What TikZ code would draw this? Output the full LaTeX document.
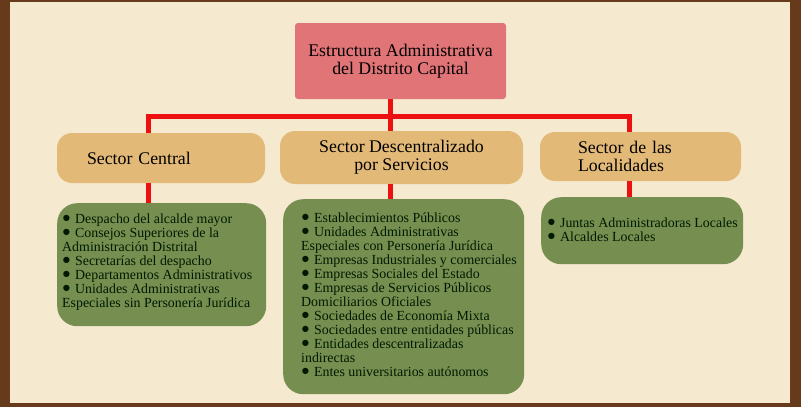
\documentclass[tikz,border=0pt]{standalone}
\usepackage{fontspec}
\setmainfont{Liberation Serif}
\definecolor{framebrown}{RGB}{103,58,27}
\definecolor{paper}{RGB}{245,233,208}
\definecolor{rose}{RGB}{225,116,118}
\definecolor{sand}{RGB}{227,185,120}
\definecolor{moss}{RGB}{118,143,80}
\definecolor{wire}{RGB}{236,16,16}
\newcommand\itm{\raisebox{1pt}{\fontsize{14.5}{14.5}\selectfont ●}\hspace{0.3em}}
\tikzstyle{topbox}=[shape=rectangle,
	       fill=rose,
	       rounded corners=3pt,
	       minimum width=211pt,
	       minimum height=76pt,
	       align=center,
	       font=\fontsize{17.8}{18}\selectfont]
\tikzstyle{secbox}=[shape=rectangle,
	       fill=sand,
	       rounded corners=15pt,
	       inner sep=0pt,
	       font=\fontsize{17.8}{18}\selectfont]
\tikzstyle{itembox}=[shape=rectangle,
	       fill=moss,
	       rounded corners=20pt,
	       anchor=north west]
\tikzstyle{itemtext}=[anchor=north west,
	       inner sep=0pt,
	       align=left,
	       text=black!90!green,
	       font=\fontsize{13.9}{14}\selectfont]
\tikzstyle{link}=[draw=wire, line width=5pt]

\begin{document}
\begin{tikzpicture}[x=1pt,y=-1pt]

% frame and paper
\useasboundingbox (0,0) rectangle (801,407);
\fill[framebrown] (0,0) rectangle (801,407);
\fill[paper] (10,2) rectangle (790,403);

% head of the chart
\node[topbox] (top) at (400.5,61) {Estructura Administrativa\\del Distrito Capital};

% the three sectors
\node[secbox, minimum width=208pt, minimum height=50pt, text width=148pt, align=left] (central) at (161,158) {Sector Central};
\node[secbox, minimum width=243pt, minimum height=53pt, align=center] (desc) at (401.5,157.5) {Sector Descentralizado\\por Servicios};
\node[secbox, minimum width=201pt, minimum height=49pt, text width=125pt, align=left] (local) at (640.5,156.5) {Sector de las\\Localidades};

% green boxes with their lists
\node[itembox, minimum width=209pt, minimum height=123pt] (cbox) at (57,203) {};
\node[itembox, minimum width=241pt, minimum height=195pt] (dbox) at (283,199) {};
\node[itembox, minimum width=202pt, minimum height=67pt] (lbox) at (541,197) {};

\node[itemtext] (clist) at (62,213.5) {\itm Despacho del alcalde mayor\\\itm Consejos Superiores de la\\Administración Distrital\\\itm Secretarías del despacho\\\itm Departamentos Administrativos\\\itm Unidades Administrativas\\Especiales sin Personería Jurídica};
\node[itemtext] (dlist) at (301,212.5) {\itm Establecimientos Públicos\\\itm Unidades Administrativas\\Especiales con Personería Jurídica\\\itm Empresas Industriales y comerciales\\\itm Empresas Sociales del Estado\\\itm Empresas de Servicios Públicos\\Domiciliarios Oficiales\\\itm Sociedades de Economía Mixta\\\itm Sociedades entre entidades públicas\\\itm Entidades descentralizadas\\indirectas\\\itm Entes universitarios autónomos};
\node[itemtext] (llist) at (547,217.5) {\itm Juntas Administradoras Locales\\\itm Alcaldes Locales};

% red connectors
\coordinate (jc) at (148,116);
\coordinate (jm) at (390,116);
\coordinate (jl) at (629,116);
\draw[link] (jm |- top.south) -- (jm |- desc.north);
\draw[link] (jc |- central.north) -- (jc) -- (jl) -- (jl |- local.north);
\draw[link] (jc |- central.south) -- (jc |- cbox.north);
\draw[link] (jm |- desc.south) -- (jm |- dbox.north);
\draw[link] (jl |- local.south) -- (jl |- lbox.north);

\end{tikzpicture}
\end{document}
